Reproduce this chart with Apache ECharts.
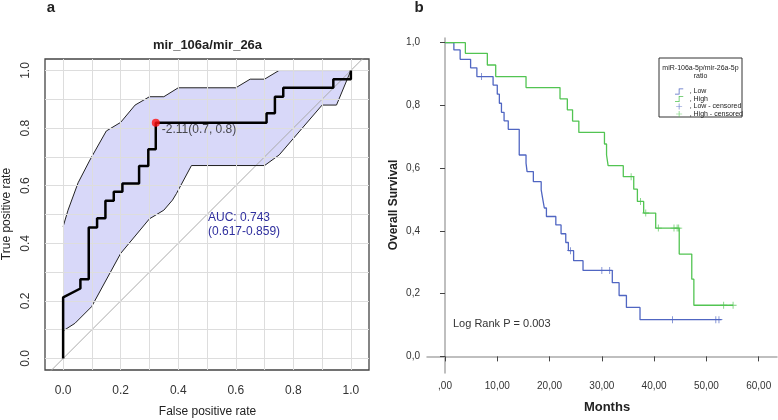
<!DOCTYPE html>
<html>
<head>
<meta charset="utf-8">
<script src="https://cdn.jsdelivr.net/npm/echarts@6/dist/echarts.min.js"></script>
<style>
  html, body { margin: 0; padding: 0; background: #fff; }
  #main { width: 778px; height: 420px; }
</style>
</head>
<body>
<div id="main"></div>
<script>
// panel a: ROC curve (FPR, TPR)
var rocFpr = [0, 0, 0.06, 0.06, 0.089, 0.089, 0.118, 0.118, 0.147, 0.147, 0.176, 0.176, 0.206, 0.206, 0.264, 0.264, 0.296, 0.296, 0.322, 0.322, 0.707, 0.707, 0.736, 0.736, 0.765, 0.765, 0.939, 0.939, 1, 1];
var rocTpr = [0, 0.212, 0.243, 0.275, 0.275, 0.455, 0.455, 0.487, 0.487, 0.548, 0.548, 0.579, 0.579, 0.608, 0.608, 0.668, 0.668, 0.727, 0.727, 0.819, 0.819, 0.852, 0.852, 0.909, 0.909, 0.94, 0.94, 0.97, 0.97, 1];
// confidence band
var ciUpperFpr = [0, 0.017, 0.052, 0.093, 0.15, 0.2, 0.25, 0.3, 0.35, 0.4, 0.6, 0.65, 0.7, 0.75, 1];
var ciUpperTpr = [0.458, 0.515, 0.61, 0.689, 0.79, 0.82, 0.88, 0.909, 0.909, 0.94, 0.94, 0.97, 0.97, 1, 1];
var ciLowerFpr = [0, 0.041, 0.099, 0.2, 0.3, 0.35, 0.38, 0.394, 0.446, 0.7, 0.751, 0.9, 0.95, 1];
var ciLowerTpr = [0.096, 0.122, 0.18, 0.365, 0.485, 0.515, 0.55, 0.573, 0.67, 0.67, 0.707, 0.88, 0.88, 1];
var cutPoint = [0.322, 0.819];
var cutLabel = '-2.11(0.7, 0.8)';
var rocTicks = [0, 0.2, 0.4, 0.6, 0.8, 1];
var rocGrid = [0, 0.1, 0.2, 0.3, 0.4, 0.5, 0.6, 0.7, 0.8, 0.9, 1];

// panel b: Kaplan-Meier curves
var lowTimes = [0, 1.7, 2.9, 4.9, 6.1, 9.2, 10.0, 10.4, 10.8, 11.3, 12.1, 14.2, 15.5, 15.7, 16.9, 18.4, 18.7, 19.0, 19.4, 21.2, 22.2, 23.1, 23.6, 24.6, 26.4, 32.0, 33.3, 34.7, 37.3, 52.9];
var lowSurv = [1, 0.977, 0.947, 0.92, 0.892, 0.865, 0.836, 0.807, 0.778, 0.751, 0.724, 0.642, 0.616, 0.589, 0.557, 0.531, 0.501, 0.473, 0.446, 0.419, 0.391, 0.363, 0.337, 0.305, 0.274, 0.235, 0.194, 0.156, 0.117, 0.117];
var lowCensorT = [7.0, 24.0, 30.0, 31.5, 43.5, 51.8, 52.4];
var lowCensorS = [0.892, 0.337, 0.274, 0.274, 0.117, 0.117, 0.117];
var highTimes = [0, 3.9, 8.1, 9.7, 15.5, 22.0, 23.4, 24.4, 25.6, 30.5, 30.9, 31.2, 34.1, 36.1, 36.8, 38.0, 40.3, 44.8, 47.2, 47.6, 55.1];
var highSurv = [1, 0.966, 0.929, 0.892, 0.857, 0.821, 0.786, 0.75, 0.714, 0.677, 0.642, 0.608, 0.573, 0.533, 0.494, 0.457, 0.409, 0.326, 0.246, 0.163, 0.163];
var highCensorT = [35.6, 37.4, 38.4, 40.8, 43.8, 44.4, 44.7, 53.3, 55.1];
var highCensorS = [0.573, 0.494, 0.457, 0.409, 0.409, 0.409, 0.409, 0.163, 0.163];
var monthTicks = [0, 10, 20, 30, 40, 50, 60];
var survTicks = [0, 0.2, 0.4, 0.6, 0.8, 1];

function zip(a, b) {
  return a.map(function (v, i) { return [v, b[i]]; });
}

var lowColor = '#5066c2';
var highColor = '#52c452';
var plusIcon = 'path://M4.4,0 L5.6,0 L5.6,4.4 L10,4.4 L10,5.6 L5.6,5.6 L5.6,10 L4.4,10 L4.4,5.6 L0,5.6 L0,4.4 L4.4,4.4 Z';
var stepIcon = 'path://M0,8 L5,8 L5,1 L11,1 L11,2 L6,2 L6,9 L0,9 Z';
var font = 'Liberation Sans, Arial, sans-serif';

function txt(text, x, y, size, opts) {
  opts = opts || {};
  return {
    type: 'text', x: x, y: y, rotation: opts.rot || 0, z: 10,
    style: {
      text: text, fontSize: size, fontFamily: font,
      fontWeight: opts.bold ? 'bold' : 'normal',
      fill: opts.color || '#222',
      align: opts.align || 'center', textAlign: opts.align || 'center',
      verticalAlign: 'middle', textVerticalAlign: 'middle',
      lineHeight: opts.lh
    }
  };
}

var myChart = echarts.init(document.getElementById('main'));

var option = {
  animation: false,
  textStyle: { fontFamily: font },
  grid: [
    { left: 45, top: 59, width: 324, height: 311, show: true, borderColor: '#444', borderWidth: 1.3 },
    { left: 427, top: 38, width: 350, height: 335 }
  ],
  xAxis: [
    {
      gridIndex: 0, type: 'value', min: -0.063, max: 1.063,
      axisLine: { show: false },
      axisTick: { show: true, customValues: rocTicks, length: 6, lineStyle: { color: '#333' } },
      axisLabel: { customValues: rocTicks, margin: 15, fontSize: 12, color: '#333',
        formatter: function (v) { return v.toFixed(1); } },
      splitLine: { show: false }
    },
    {
      gridIndex: 1, type: 'value', min: -3.44, max: 63.5,
      axisLine: { show: true, lineStyle: { color: '#aaa', width: 1.5 } },
      axisTick: { show: true, customValues: monthTicks, length: 5, lineStyle: { color: '#444' } },
      axisLabel: { customValues: monthTicks, margin: 8, fontSize: 10, color: '#333',
        formatter: function (v) { return (v === 0 ? '' : v) + ',00'; } },
      splitLine: { show: false }
    }
  ],
  yAxis: [
    {
      gridIndex: 0, type: 'value', min: -0.04, max: 1.04,
      axisLine: { show: false },
      axisTick: { show: true, customValues: rocTicks, length: 6, lineStyle: { color: '#333' } },
      axisLabel: { customValues: rocTicks, rotate: 90, margin: 13, fontSize: 12, color: '#333',
        formatter: function (v) { return v.toFixed(1); } },
      splitLine: { show: false }
    },
    {
      gridIndex: 1, type: 'value', min: -0.053, max: 1.015,
      axisLine: { show: true, lineStyle: { color: '#aaa', width: 1.5 } },
      axisTick: { show: true, customValues: survTicks, length: 5, lineStyle: { color: '#444' } },
      axisLabel: { customValues: survTicks, margin: 7, fontSize: 10, color: '#333',
        formatter: function (v) { return v.toFixed(1).replace('.', ','); } },
      splitLine: { show: false }
    }
  ],
  legend: {
    orient: 'vertical', left: 670, top: 83,
    itemWidth: 11, itemHeight: 6, itemGap: 0.5,
    textStyle: { fontSize: 7, color: '#222', lineHeight: 7 },
    formatter: function (name) { return ', ' + name; },
    data: [
      { name: 'Low', icon: stepIcon },
      { name: 'High', icon: stepIcon },
      { name: 'Low - censored', icon: plusIcon },
      { name: 'High - censored', icon: plusIcon }
    ]
  },
  graphic: [
    { type: 'rect', shape: { x: 659, y: 58, width: 83, height: 59 }, z: 0,
      style: { fill: '#fff', stroke: '#333', lineWidth: 1 } },
    txt('miR-106a-5p/mir-26a-5p\nratio', 700.5, 72, 7, { lh: 8 }),
    txt('a', 51, 8, 15, { bold: true }),
    txt('b', 419, 8, 15, { bold: true }),
    txt('mir_106a/mir_26a', 207.5, 45, 13, { bold: true }),
    txt('True positive rate', 7, 214, 12, { rot: Math.PI / 2 }),
    txt('False positive rate', 207.5, 412, 12),
    txt('AUC: 0.743', 208, 218, 12, { align: 'left', color: '#2f2f9e' }),
    txt('(0.617-0.859)', 208, 232, 12, { align: 'left', color: '#2f2f9e' }),
    txt('Log Rank P = 0.003', 453, 324, 11, { align: 'left', color: '#333' }),
    txt('Overall Survival', 394, 205, 12, { rot: Math.PI / 2, bold: true }),
    txt('Months', 607, 407, 13, { bold: true })
  ],
  series: [
    // background grid of panel a
    {
      type: 'line', xAxisIndex: 0, yAxisIndex: 0, data: [], z: 1, silent: true,
      markLine: {
        silent: true, symbol: 'none', label: { show: false },
        lineStyle: { color: '#dddddd', type: 'solid', width: 1 },
        data: rocGrid.map(function (v) { return { xAxis: v }; })
          .concat(rocGrid.map(function (v) { return { yAxis: v }; }))
      }
    },
    // confidence band fill
    {
      type: 'custom', xAxisIndex: 0, yAxisIndex: 0, z: 2, silent: true,
      data: [[0, 0]],
      renderItem: function (params, api) {
        var pts = [];
        for (var i = 0; i < ciUpperFpr.length; i++) pts.push(api.coord([ciUpperFpr[i], ciUpperTpr[i]]));
        for (var j = ciLowerFpr.length - 1; j >= 0; j--) pts.push(api.coord([ciLowerFpr[j], ciLowerTpr[j]]));
        return { type: 'polygon', shape: { points: pts }, style: { fill: '#d8d8f9', stroke: null } };
      }
    },
    // chance diagonal
    {
      type: 'line', xAxisIndex: 0, yAxisIndex: 0, z: 3, silent: true, clip: true,
      data: [[-0.2, -0.2], [1.2, 1.2]], symbol: 'none',
      lineStyle: { color: '#aaaaaa', width: 1 }
    },
    {
      type: 'line', xAxisIndex: 0, yAxisIndex: 0, z: 4, silent: true,
      data: zip(ciUpperFpr, ciUpperTpr), symbol: 'none',
      lineStyle: { color: '#222', width: 1 }
    },
    {
      type: 'line', xAxisIndex: 0, yAxisIndex: 0, z: 4, silent: true,
      data: zip(ciLowerFpr, ciLowerTpr), symbol: 'none',
      lineStyle: { color: '#222', width: 1 }
    },
    {
      type: 'line', xAxisIndex: 0, yAxisIndex: 0, z: 5, silent: true,
      data: zip(rocFpr, rocTpr), symbol: 'none',
      lineStyle: { color: '#000', width: 2.5 }
    },
    {
      type: 'scatter', xAxisIndex: 0, yAxisIndex: 0, z: 6, silent: true,
      data: [cutPoint], symbolSize: 8, itemStyle: { color: '#ff1010' },
      label: { show: true, position: 'right', offset: [-3, 7], fontSize: 12, color: '#222',
        formatter: function () { return cutLabel; } }
    },
    // panel b
    {
      name: 'Low', type: 'line', step: 'end', xAxisIndex: 1, yAxisIndex: 1,
      data: zip(lowTimes, lowSurv), symbol: 'none',
      itemStyle: { color: lowColor }, lineStyle: { color: lowColor, width: 1.3 }
    },
    {
      name: 'High', type: 'line', step: 'end', xAxisIndex: 1, yAxisIndex: 1,
      data: zip(highTimes, highSurv), symbol: 'none',
      itemStyle: { color: highColor }, lineStyle: { color: highColor, width: 1.3 }
    },
    {
      name: 'Low - censored', type: 'scatter', xAxisIndex: 1, yAxisIndex: 1,
      data: zip(lowCensorT, lowCensorS), symbol: plusIcon, symbolSize: 7,
      itemStyle: { color: lowColor }
    },
    {
      name: 'High - censored', type: 'scatter', xAxisIndex: 1, yAxisIndex: 1,
      data: zip(highCensorT, highCensorS), symbol: plusIcon, symbolSize: 7,
      itemStyle: { color: highColor }
    }
  ]
};

myChart.setOption(option);
</script>
</body>
</html>
